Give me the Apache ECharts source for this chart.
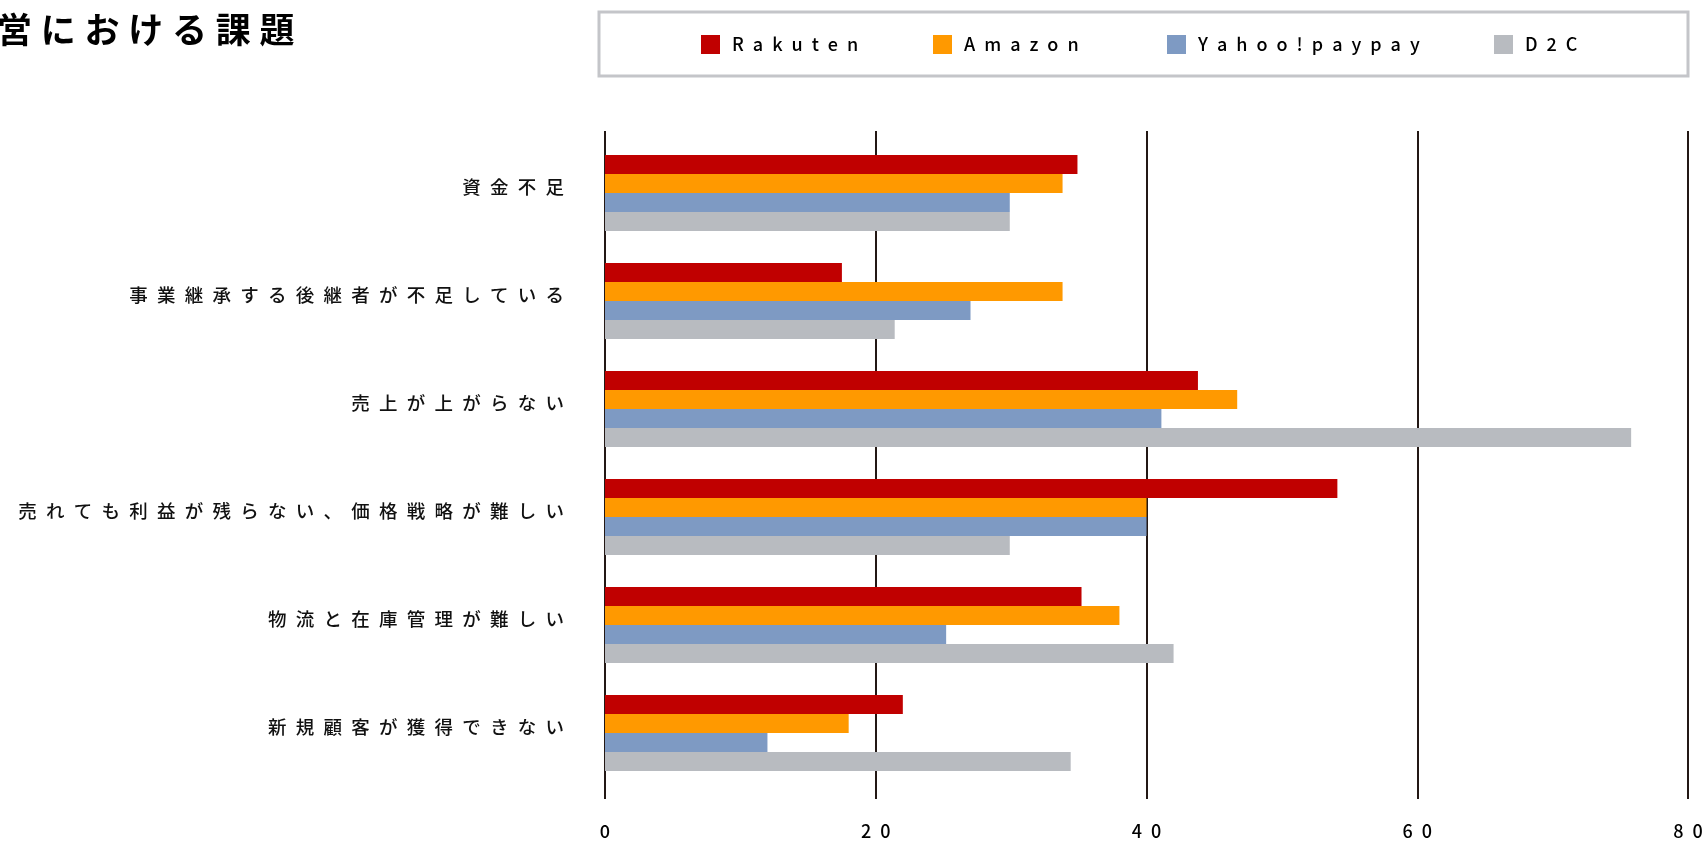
<!DOCTYPE html>
<html>
<head>
<meta charset="utf-8">
<script src="https://cdn.jsdelivr.net/npm/echarts@6/dist/echarts.min.js"></script>
<style>
  html, body { margin: 0; padding: 0; background: #fff; }
  #chart { width: 1708px; height: 842px; }
</style>
</head>
<body>
<div id="chart"></div>
<script>
const titleText = '営における課題';

const categories = [
  '資金不足',
  '事業継承する後継者が不足している',
  '売上が上がらない',
  '売れても利益が残らない、価格戦略が難しい',
  '物流と在庫管理が難しい',
  '新規顧客が獲得できない',
];

const seriesNames = ['Rakuten', 'Amazon', 'Yahoo!paypay', 'D2C'];
const rakuten = [34.9, 17.5, 43.8, 54.1, 35.2, 22.0];
const amazon = [33.8, 33.8, 46.7, 40.0, 38.0, 18.0];
const yahoo = [29.9, 27.0, 41.1, 40.0, 25.2, 12.0];
const d2c = [29.9, 21.4, 75.8, 29.9, 42.0, 34.4];

const colors = ['#c00000', '#ff9900', '#7e9ac3', '#b8bbc0'];
const legendLeft = [701, 933, 1167, 1494];

const ink = '#231815';
const font = '"Noto Sans CJK JP", "Noto Sans", sans-serif';

// no letterSpacing in echarts text, so pad the characters out
function spaced(str, sp) {
  return Array.from(String(str)).join(sp);
}

const chart = echarts.init(document.getElementById('chart'));

const option = {
  animation: false,
  textStyle: { fontFamily: font },
  title: {
    text: spaced(titleText, '\u2005'),
    left: -8,
    top: 7,
    textStyle: { fontSize: 35, fontWeight: 'bold', color: '#000', fontFamily: font },
  },
  legend: seriesNames.map((name, i) => ({
    data: [name],
    left: legendLeft[i],
    top: 35,
    padding: 0,
    itemWidth: 19,
    itemHeight: 19,
    icon: 'rect',
    formatter: n => spaced(n, '\u2002'),
    textStyle: { fontSize: 18, fontWeight: 500, color: '#000', fontFamily: font, padding: [0, 0, 0, 7] },
  })),
  graphic: [{
    type: 'rect',
    shape: { x: 599, y: 12, width: 1089, height: 64 },
    style: { fill: 'none', stroke: '#c4c5c9', lineWidth: 3 },
    z: -1,
  }],
  grid: { left: 605, right: 20, top: 139, bottom: 55 },
  xAxis: [{
    type: 'value',
    min: 0,
    max: 80,
    interval: 20,
    axisLine: { show: false },
    axisTick: { show: true, length: 12, lineStyle: { color: ink, width: 2 } },
    splitLine: { lineStyle: { color: ink, width: 2 } },
    axisLabel: {
      margin: 35,
      fontSize: 18,
      fontWeight: 500,
      color: '#000',
      fontFamily: font,
      formatter: v => spaced(v, '\u2002'),
    },
  }, {
    type: 'value',
    position: 'top',
    min: 0,
    max: 80,
    interval: 20,
    axisLine: { show: false },
    axisTick: { show: true, length: 8, lineStyle: { color: ink, width: 2 } },
    splitLine: { show: false },
    axisLabel: { show: false },
  }],
  yAxis: {
    type: 'category',
    inverse: true,
    data: categories,
    axisLine: { show: false },
    axisTick: { show: false },
    axisLabel: {
      margin: 41,
      fontSize: 18.5,
      fontWeight: 500,
      color: '#111',
      fontFamily: font,
      verticalAlign: 'bottom',
      lineHeight: 13,
      formatter: v => spaced(v, '\u2002'),
    },
  },
  series: [rakuten, amazon, yahoo, d2c].map((data, i) => ({
    name: seriesNames[i],
    type: 'bar',
    data,
    barWidth: 19,
    barGap: '0%',
    itemStyle: { color: colors[i] },
  })),
  color: colors,
};

chart.setOption(option);
</script>
</body>
</html>
